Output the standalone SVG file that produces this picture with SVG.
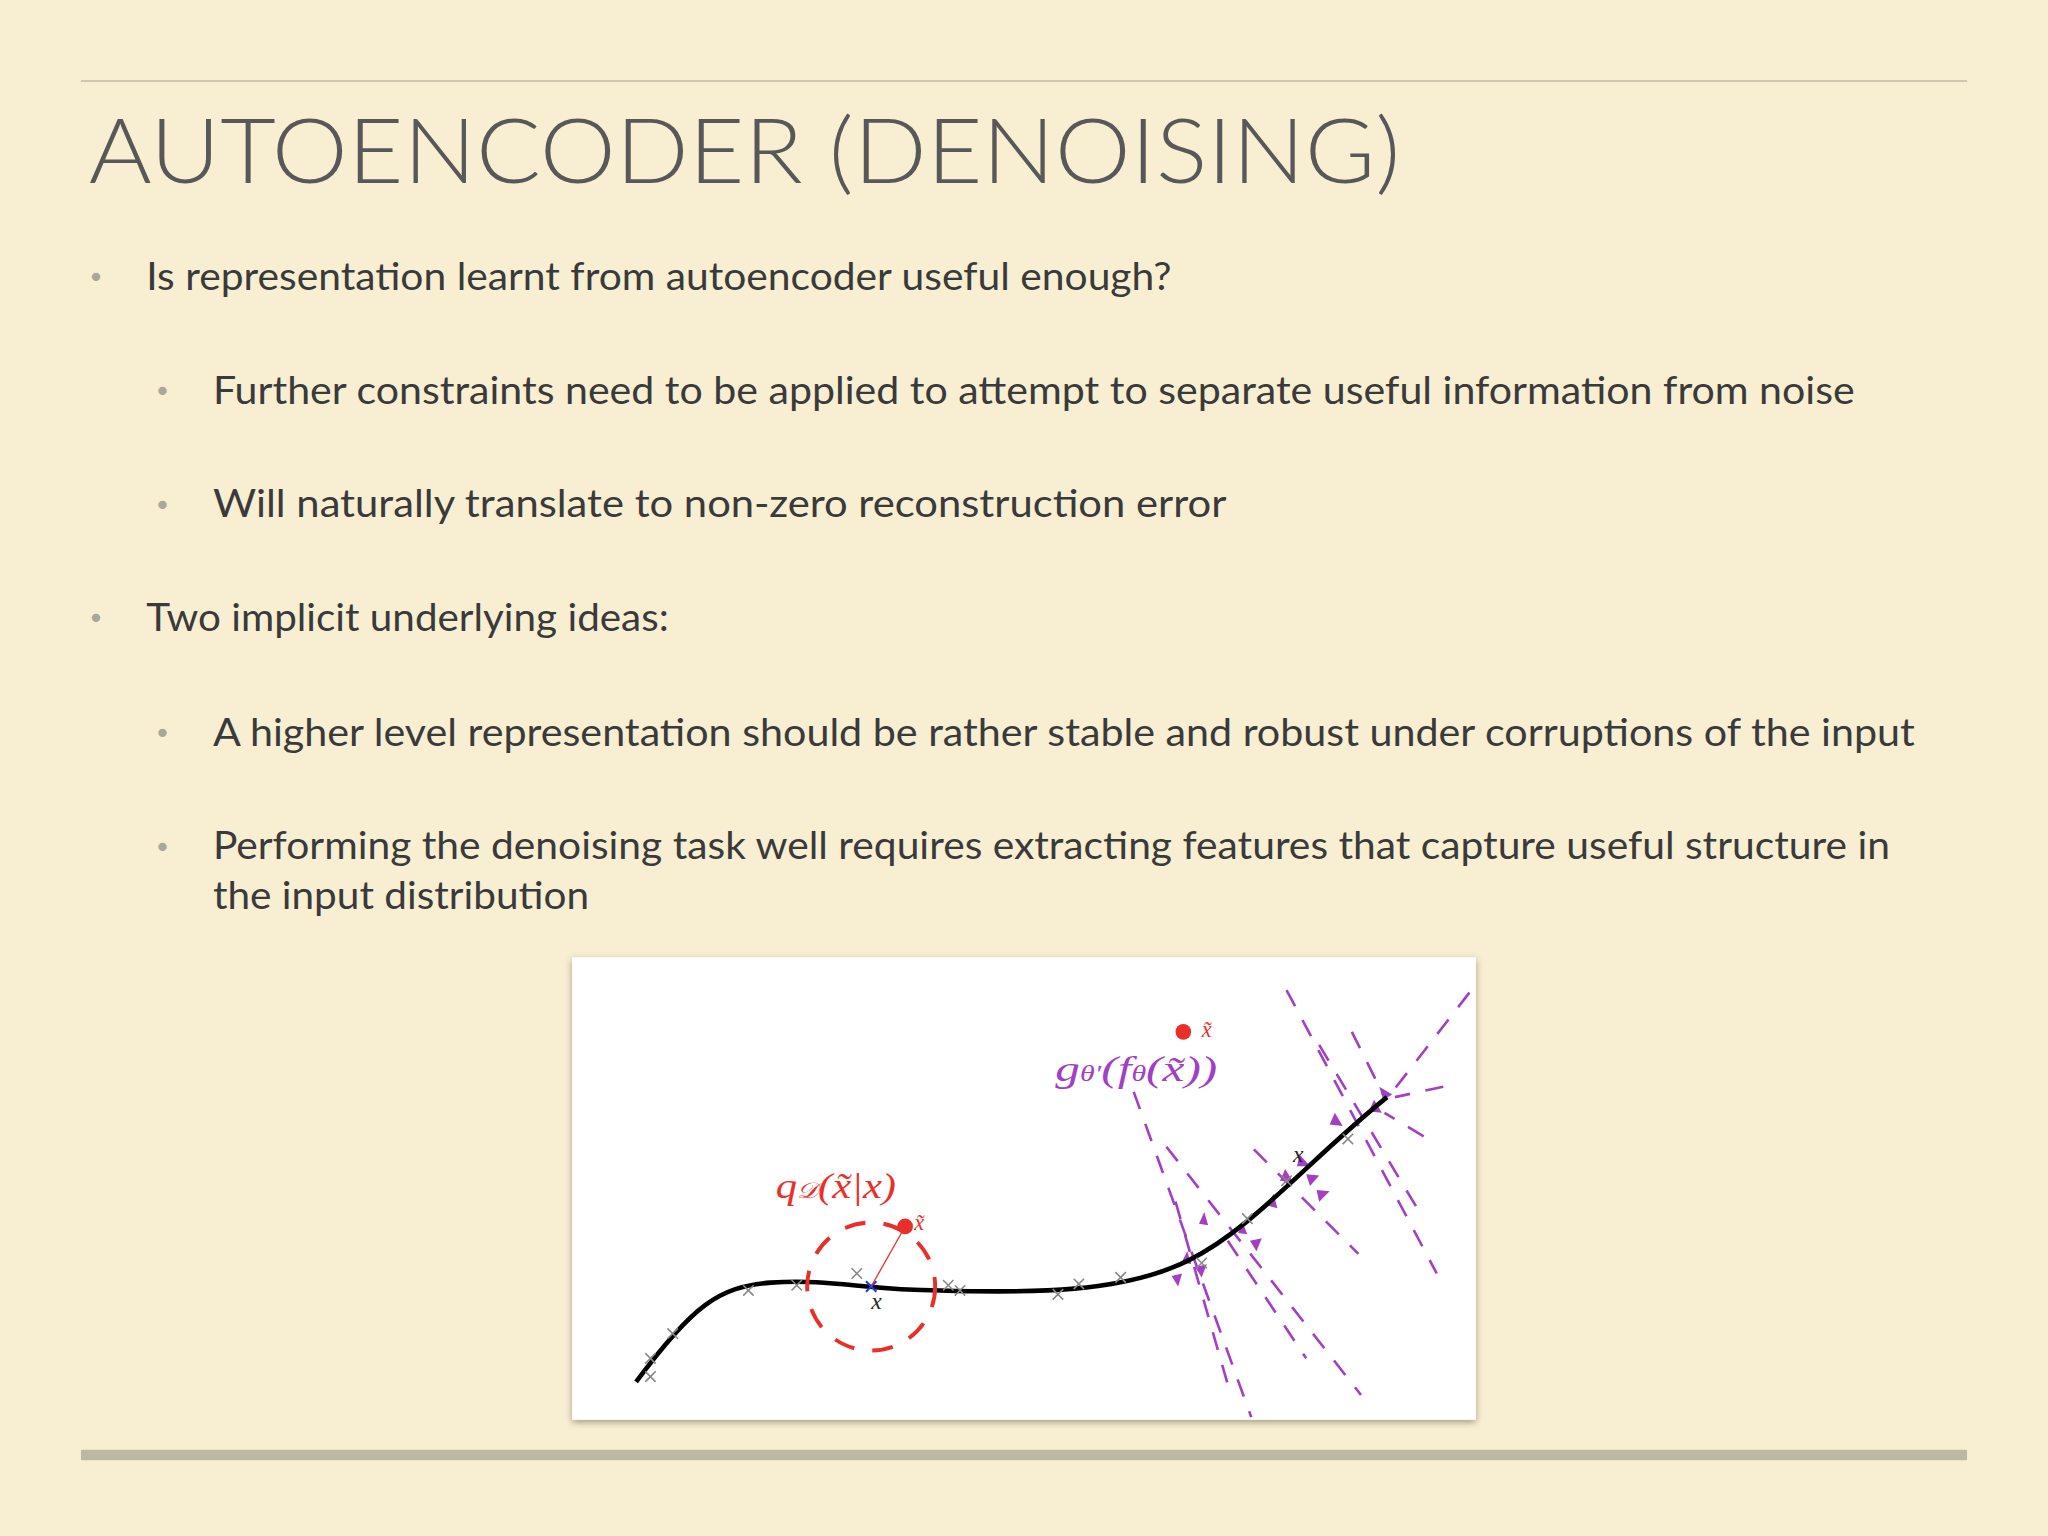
<svg xmlns="http://www.w3.org/2000/svg" width="2048" height="1536" viewBox="0 0 2048 1536">
<style>
.t{font-family:Lato,"Open Sans",sans-serif;font-size:30px;fill:#3a3a3a}
.b{font-family:"DejaVu Sans",sans-serif;font-size:22px;fill:#aaa69a}
.xm{stroke:#888;stroke-width:1.2;fill:none}
.pd{stroke:#a23fc2;stroke-width:2;stroke-dasharray:14 12;fill:none}
.ah{fill:#a23fc2}
.m{font-family:"Liberation Serif",serif;font-style:italic}
</style>
<defs>
<filter id="sh" x="-5%" y="-5%" width="110%" height="110%"><feDropShadow dx="0" dy="2" stdDeviation="3" flood-color="#000" flood-opacity="0.35"/></filter>
</defs>
<rect width="2048" height="1536" fill="#f8efd2"/>
<g transform="scale(1.30612)">
<g id="frame">
<line x1="62" y1="62" x2="1506" y2="62" stroke="#cfc7b0" stroke-width="1.5"/>
<rect x="62" y="1110" width="1444" height="8" fill="#bdb8a4"/>
</g>
<g id="title"><text x="68" y="140" font-family="Lato,sans-serif" font-weight="300" font-size="70" fill="#585858" textLength="1004" lengthAdjust="spacingAndGlyphs">AUTOENCODER (DENOISING)</text></g>
<g id="bullets">
<text class="b" x="67" y="220">•</text><text class="t" x="112" y="222" textLength="785" lengthAdjust="spacingAndGlyphs">Is representation learnt from autoencoder useful enough?</text>
<text class="b" x="118" y="307">•</text><text class="t" x="163" y="309" textLength="1257" lengthAdjust="spacingAndGlyphs">Further constraints need to be applied to attempt to separate useful information from noise</text>
<text class="b" x="118" y="394">•</text><text class="t" x="163" y="396" textLength="776" lengthAdjust="spacingAndGlyphs">Will naturally translate to non-zero reconstruction error</text>
<text class="b" x="67" y="481">•</text><text class="t" x="112" y="483" textLength="400" lengthAdjust="spacingAndGlyphs">Two implicit underlying ideas:</text>
<text class="b" x="118" y="569">•</text><text class="t" x="163" y="571" textLength="1303" lengthAdjust="spacingAndGlyphs">A higher level representation should be rather stable and robust under corruptions of the input</text>
<text class="b" x="118" y="656">•</text><text class="t" x="163" y="658" textLength="1284" lengthAdjust="spacingAndGlyphs">Performing the denoising task well requires extracting features that capture useful structure in</text>
<text class="t" x="163" y="696" textLength="288" lengthAdjust="spacingAndGlyphs">the input distribution</text>
</g>
<g id="figure">
<rect x="438" y="733" width="692" height="354" fill="#fff" filter="url(#sh)"/>
<g id="purple">
<line class="pd" x1="868" y1="836" x2="958" y2="1085"/>
<line class="pd" x1="893" y1="878" x2="1042" y2="1068"/>
<line class="pd" x1="985" y1="758" x2="1100" y2="975"/>
<line class="pd" x1="1010" y1="800" x2="1088" y2="930"/>
<line class="pd" x1="1035" y1="790" x2="1060" y2="840"/>
<line class="pd" x1="1125" y1="760" x2="1066" y2="836"/>
<line class="pd" x1="1105" y1="832" x2="1068" y2="840"/>
<line class="pd" x1="1090" y1="870" x2="1060" y2="852"/>
<line class="pd" x1="960" y1="880" x2="1040" y2="960"/>
<line class="pd" x1="900" y1="920" x2="940" y2="1060"/>
<line class="pd" x1="940" y1="950" x2="1000" y2="1040"/>
<polygon class="ah" points="1066,838 1056,832 1059,842"/>
<polygon class="ah" points="1058,852 1052,842 1048,851"/>
<polygon class="ah" points="1028,862 1022,852 1018,861"/>
<polygon class="ah" points="1003,893 995,884 993,893"/>
<polygon class="ah" points="990,905 984,895 980,904"/>
<polygon class="ah" points="1003,908 1010,900 1000,899"/>
<polygon class="ah" points="1010,920 1018,912 1008,911"/>
<polygon class="ah" points="978,925 975,914 970,923"/>
<polygon class="ah" points="955,945 951,935 948,944"/>
<polygon class="ah" points="962,958 966,948 957,950"/>
<polygon class="ah" points="925,938 922,928 918,937"/>
<polygon class="ah" points="912,968 909,958 905,966"/>
<polygon class="ah" points="920,978 924,968 915,970"/>
<polygon class="ah" points="902,985 905,975 897,977"/>
</g>
<path d="M487,1058 C530,1000 550,985 590,982 C640,979 660,988 720,988 C790,990 860,990 910,965 C960,940 1000,890 1062,840" fill="none" stroke="#000" stroke-width="3.5"/>
<g id="markers" class="xm">
<path d="M494,1050l8,8m0,-8l-8,8"/><path d="M494,1036l8,8m0,-8l-8,8"/><path d="M511,1017l8,8m0,-8l-8,8"/><path d="M569,984l8,8m0,-8l-8,8"/><path d="M606,980l8,8m0,-8l-8,8"/><path d="M652,971l8,8m0,-8l-8,8"/><path d="M722,980l8,8m0,-8l-8,8"/><path d="M731,984l8,8m0,-8l-8,8"/><path d="M806,987l8,8m0,-8l-8,8"/><path d="M822,979l8,8m0,-8l-8,8"/><path d="M854,974l8,8m0,-8l-8,8"/><path d="M916,963l8,8m0,-8l-8,8"/><path d="M951,929l8,8m0,-8l-8,8"/><path d="M981,900l8,8m0,-8l-8,8"/><path d="M1028,868l8,8m0,-8l-8,8"/>
</g>
<path d="M663,981l8,8m0,-8l-8,8" stroke="#1a3ed8" stroke-width="1.6"/>
<circle cx="667" cy="985" r="49" fill="none" stroke="#e8302a" stroke-width="3" stroke-dasharray="16 14"/>
<line x1="667" y1="985" x2="693" y2="939" stroke="#e8302a" stroke-width="1"/>
<circle cx="693" cy="939" r="6" fill="#e8302a"/>
<text class="m" x="700" y="942" font-size="17" fill="#e8302a">x̃</text>
<circle cx="906" cy="790" r="6" fill="#e8302a"/>
<text class="m" x="920" y="794" font-size="17" fill="#e8302a">x̃</text>
<text class="m" x="667" y="1002" font-size="18" fill="#222">x</text>
<text class="m" x="990" y="890" font-size="18" fill="#222">x</text>
<text class="m" x="594" y="917" font-size="28" fill="#e8302a" textLength="92" lengthAdjust="spacingAndGlyphs">q<tspan font-size="17">𝒟</tspan>(x̃|x)</text>
<text class="m" x="808" y="828" font-size="28" fill="#a23fc2" textLength="124" lengthAdjust="spacingAndGlyphs">g<tspan font-size="17">θ′</tspan>(f<tspan font-size="17">θ</tspan>(x̃))</text>
</g>
</g>
</svg>
